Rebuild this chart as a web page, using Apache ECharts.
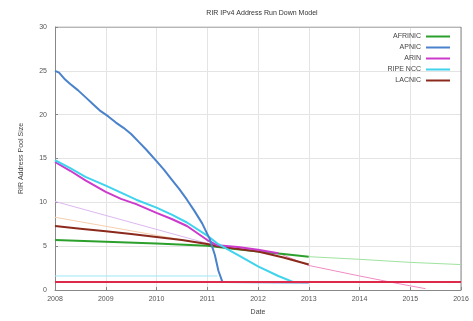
<!DOCTYPE html>
<html>
<head>
<meta charset="utf-8">
<script src="https://cdn.jsdelivr.net/npm/echarts@6/dist/echarts.min.js"></script>
<style>
  html, body { margin: 0; padding: 0; background: #fff; }
  #chart { width: 473px; height: 321px; }
</style>
</head>
<body>
<div id="chart"></div>
<script>
// values are /8 pool sizes
const xTicks = [2008, 2009, 2010, 2011, 2012, 2013, 2014, 2015, 2016]
const legendNames = ["AFRINIC", "APNIC", "ARIN", "RIPE NCC", "LACNIC"]

const afrinic = [[2008, 5.7], [2009, 5.5], [2010, 5.3], [2011, 5.05], [2011.5, 4.7], [2012, 4.4], [2012.5, 4.1], [2013, 3.8]]
const afrinicModel = [[2013, 3.8], [2014, 3.5], [2015, 3.15], [2016, 2.9]]

const apnic = [
  [2008, 25.0], [2008.08, 24.8], [2008.2, 24.0], [2008.3, 23.5], [2008.45, 22.8], [2008.6, 22.0],
  [2008.75, 21.2], [2008.9, 20.4], [2009.05, 19.8], [2009.2, 19.1], [2009.35, 18.5], [2009.5, 17.8],
  [2009.65, 16.9], [2009.8, 16.0], [2010, 14.7], [2010.15, 13.7], [2010.3, 12.6], [2010.45, 11.5],
  [2010.6, 10.3], [2010.75, 9.0], [2010.9, 7.6], [2011.05, 5.8], [2011.15, 4.0], [2011.22, 2.2],
  [2011.3, 0.9], [2013, 0.85]
]

const arin = [
  [2008, 14.6], [2008.3, 13.6], [2008.6, 12.5], [2009, 11.2], [2009.3, 10.4], [2009.6, 9.8],
  [2010, 8.8], [2010.3, 8.1], [2010.6, 7.3], [2011, 5.7], [2011.2, 5.1], [2011.6, 4.9],
  [2012, 4.6], [2012.4, 4.2]
]
const arinModel = [[2012.4, 4.2], [2013, 2.8], [2013.5, 2.2], [2014, 1.6], [2014.7, 0.8], [2015.3, 0.15]]

const ripe = [
  [2008, 14.8], [2008.3, 13.9], [2008.6, 12.9], [2009, 11.9], [2009.3, 11.1], [2009.6, 10.3],
  [2010, 9.4], [2010.3, 8.6], [2010.6, 7.7], [2011, 6.2], [2011.2, 5.3], [2011.6, 4.0],
  [2012, 2.7], [2012.4, 1.6], [2012.7, 0.9]
]

const lacnic = [[2008, 7.3], [2008.5, 7.0], [2009, 6.7], [2009.5, 6.4], [2010, 6.05], [2010.5, 5.7], [2011, 5.25], [2011.2, 5.0], [2012, 4.4], [2012.5, 3.7], [2013, 2.9]]

const lavenderModel = [[2008, 10.1], [2011.2, 5.0]]
const peachModel = [[2008, 8.3], [2011.2, 5.0]]
const cyanLow = [[2008, 1.6], [2011.2, 1.6]]
const redFloor = [[2008, 0.9], [2016, 0.9]]

const font = "Liberation Sans, Arial, sans-serif"

function thick(name, color, data) {
  return { name, type: "line", data, showSymbol: false, symbol: "none", color,
    lineStyle: { width: 2, color }, z: 3 }
}
function thin(name, color, data) {
  return { name, type: "line", data, showSymbol: false, symbol: "none", color,
    lineStyle: { width: 1, color }, z: 2 }
}

const chart = echarts.init(document.getElementById("chart"), null, { renderer: "canvas" })
chart.setOption({
  animation: false,
  backgroundColor: "#fff",
  title: {
    text: "RIR IPv4 Address Run Down Model",
    left: 257, top: 5, textAlign: "center",
    textStyle: { fontFamily: font, fontSize: 7, fontWeight: "normal", color: "#333" }
  },
  legend: {
    data: legendNames,
    right: 18, top: 28, orient: "vertical", align: "right",
    icon: "rect", itemWidth: 24, itemHeight: 2, itemGap: 4,
    textStyle: { fontFamily: font, fontSize: 7, color: "#444" }
  },
  grid: { left: 55, right: 12, top: 27, bottom: 29 },
  xAxis: {
    type: "value", min: 2008, max: 2016, interval: 1,
    name: "Date", nameLocation: "middle", nameGap: 19,
    nameTextStyle: { fontFamily: font, fontSize: 7, color: "#444" },
    axisLine: { lineStyle: { color: "#888" } },
    axisTick: { inside: true, length: 3, lineStyle: { color: "#888" } },
    axisLabel: { fontFamily: font, fontSize: 7, color: "#555", margin: 6,
      formatter: (v) => xTicks.includes(v) ? String(v) : "" },
    splitLine: { show: true, lineStyle: { color: "#e4e4e4", width: 1 } }
  },
  yAxis: {
    type: "value", min: 0, max: 30, interval: 5,
    name: "RIR Address Pool Size", nameLocation: "middle", nameGap: 30,
    nameTextStyle: { fontFamily: font, fontSize: 7, color: "#444" },
    axisLine: { show: true, lineStyle: { color: "#888" } },
    axisTick: { inside: true, length: 3, lineStyle: { color: "#888" } },
    axisLabel: { fontFamily: font, fontSize: 7, color: "#555", margin: 8 },
    splitLine: { show: true, lineStyle: { color: "#e4e4e4", width: 1 } }
  },
  series: [
    thin("lavender model", "#dcb8f0", lavenderModel),
    thin("peach model", "#f6cfae", peachModel),
    thin("cyan low", "#9ee8f4", cyanLow),
    thin("AFRINIC model", "#9fe39f", afrinicModel),
    thin("ARIN model", "#f08cc4", arinModel),
    thick("AFRINIC", "#2ca02c", afrinic),
    thick("LACNIC", "#8b2a1c", lacnic),
    thick("ARIN", "#cc3acc", arin),
    thick("RIPE NCC", "#3fd3ee", ripe),
    thick("APNIC", "#4a82cc", apnic),
    thick("floor", "#dd2a4a", redFloor),
    {
      type: "line", data: [[2016, 0], [2016, 30]], showSymbol: false, silent: true,
      lineStyle: { width: 1, color: "#888" }, z: 1
    },
    {
      type: "line", data: [[2008, 30], [2016, 30]], showSymbol: false, silent: true,
      lineStyle: { width: 1, color: "#888" }, z: 1
    }
  ]
})
</script>
</body>
</html>
